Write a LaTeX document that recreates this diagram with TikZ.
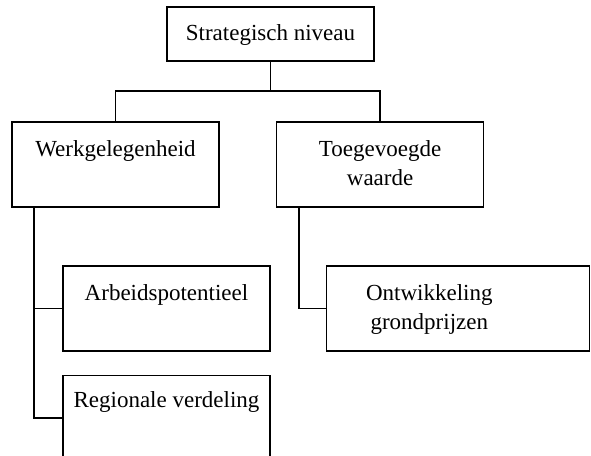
\documentclass[tikz,border=0pt]{standalone}
\usepackage{fontspec}
\setmainfont{Liberation Serif}
\usetikzlibrary{positioning}

\begin{document}
\begin{tikzpicture}[x = 1pt, y = -1pt,
  box/.style = {draw, line width = 1.6pt, minimum width = 207pt,
    minimum height = 85pt, inner sep = 0pt},
  label text/.style = {anchor = base, align = center, inner sep = 0pt,
    font = \fontsize{23}{29}\selectfont},
  line/.style = {line width = 1.6pt},
  node distance = 23pt and 56pt]

  \useasboundingbox (0,0) rectangle (591,455);

  \node[box, minimum height = 54pt] (top) at (270.5,34) {};
  \node[box] (werk) at (115.5,164.5) {};
  \node[box, right = of werk] (toeg) {};

  \node[box] (arb) at (166.5,308.5) {};
  \node[box, below = of arb] (reg) {};
  \node[box, minimum width = 263pt, right = 55pt of arb] (ont) {};

  % base of a two-line text is its last line
  \node[label text] (top-t) at ([yshift = -34pt]top.north) {Strategisch niveau};
  \node[label text] (werk-t) at ([yshift = -35pt]werk.north) {Werkgelegenheid};
  \node[label text] (toeg-t) at ([yshift = -64pt]toeg.north) {Toegevoegde\\waarde};
  \node[label text] (arb-t) at ([yshift = -35pt]arb.north) {Arbeidspotentieel};
  \node[label text] (reg-t) at ([yshift = -33pt]reg.north) {Regionale verdeling};
  \node[label text] (ont-t) at ([xshift = 103.5pt, yshift = -64pt]ont.north west)
    {Ontwikkeling\\grondprijzen};

  \coordinate (split) at (top.south |- 0,91);
  \coordinate (trunk-l) at ([xshift = 23pt]werk.south west);
  \coordinate (trunk-r) at ([xshift = 23pt]toeg.south west);

  \draw[line] (top.south) -- (split);
  \draw[line] (werk.north) |- (split) -| (toeg.north);
  \draw[line] (trunk-l) |- (reg.west);
  \draw[line] (arb.west) -- (arb.west -| trunk-l);
  \draw[line] (trunk-r) |- (ont.west);
\end{tikzpicture}
\end{document}
